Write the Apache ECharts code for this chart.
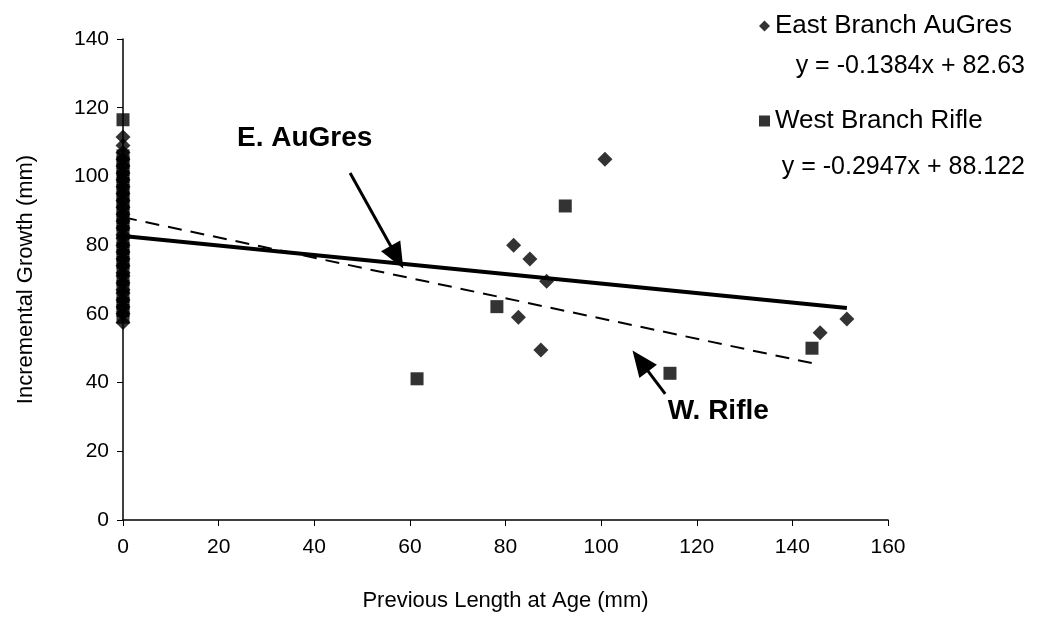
<!DOCTYPE html>
<html>
<head>
<meta charset="utf-8">
<script src="https://cdn.jsdelivr.net/npm/echarts@6/dist/echarts.min.js"></script>
<style>
html,body{margin:0;padding:0;background:#fff;}
#chart{width:1041px;height:620px;}
</style>
</head>
<body>
<div id="chart"></div>
<script>
// ---- data ----
const eastX = [0,0,0,0,0,0,0,0,0,0,0,0,0,0,0,0,0,0,0,0,0,0,0,0,0,0,0,0,0,
  100.8, 81.7, 85.1, 88.6, 82.7, 87.4, 145.8, 151.4];
const eastY = [57.5,60,62,64,66,67,69,71,72,74,76,78,80,82,83,85,87,89,91,93,95,97,99,101,103,105,107,109,111.5,
  105, 80, 76, 69.5, 59, 49.5, 54.5, 58.5];
const westX = [0,0,0,0,0,0,0,0,0,0,0,0,0,0,0,0,0,0,0,0,0,0,0,0,
  92.5, 78.2, 144.1, 114.4, 61.5];
const westY = [59,61,63,65,68,70,73,75,77,79,81,84,86,88,90,92,94,96,98,100,102,104,106,116.5,
  91.4, 62.1, 50.0, 42.7, 41.1];
// trendline coefficients (as printed on the chart)
const eastTrend = {slope: -0.1384, intercept: 82.63, label: 'y = -0.1384x + 82.63'};
const westTrend = {slope: -0.2947, intercept: 88.122, label: 'y = -0.2947x + 88.122'};
const seriesNames = ['East Branch AuGres', 'West Branch Rifle'];
const xTicks = {min: 0, max: 160, interval: 20};
const yTicks = {min: 0, max: 140, interval: 20};
const annotations = [
  {text: 'E. AuGres', at: [38, 111], from: [47.5, 101], to: [57.3, 76.5]},
  {text: 'W. Rifle', at: [124.5, 31.5], from: [113.4, 36.7], to: [108.2, 46.3]}
];

const zip = (xs, ys) => xs.map((x, i) => [x, ys[i]]);
const trendLine = (t, xs) => {
  const xm = Math.max.apply(null, xs);
  return [[0, t.intercept], [xm, t.intercept + t.slope * xm]];
};

const FONT = 'Liberation Sans, Arial, sans-serif';
const chart = echarts.init(document.getElementById('chart'));
chart.setOption({
  animation: false,
  backgroundColor: '#ffffff',
  textStyle: {fontFamily: FONT, color: '#000'},
  grid: {left: 123, right: 153, top: 39, bottom: 100},
  legend: {
    orient: 'vertical', left: 754, top: 8, itemGap: 69,
    itemWidth: 11, itemHeight: 11, itemStyle: {borderWidth: 0},
    textStyle: {fontFamily: FONT, fontSize: 26, color: '#000'},
    data: [
      {name: seriesNames[0], icon: 'diamond'},
      {name: seriesNames[1], icon: 'rect'}
    ]
  },
  graphic: [
    {type: 'text', right: 16, top: 54, style: {text: eastTrend.label, font: '25px ' + FONT, fill: '#000'}},
    {type: 'text', right: 16, top: 155, style: {text: westTrend.label, font: '25px ' + FONT, fill: '#000'}}
  ],
  xAxis: {
    type: 'value', min: xTicks.min, max: xTicks.max, interval: xTicks.interval,
    name: 'Previous Length at Age (mm)', nameLocation: 'middle', nameGap: 70,
    nameTextStyle: {fontSize: 22, color: '#000', fontFamily: FONT},
    axisLine: {show: true, onZero: false, lineStyle: {color: '#000', width: 1.5}},
    axisTick: {show: true, inside: false, length: 6, lineStyle: {color: '#000'}},
    axisLabel: {fontSize: 21, color: '#000', margin: 17, fontFamily: FONT},
    splitLine: {show: false}
  },
  yAxis: {
    type: 'value', min: yTicks.min, max: yTicks.max, interval: yTicks.interval,
    name: 'Incremental Growth (mm)', nameLocation: 'middle', nameGap: 86, nameRotate: 90,
    nameTextStyle: {fontSize: 22, color: '#000', fontFamily: FONT},
    axisLine: {show: true, onZero: false, lineStyle: {color: '#000', width: 1.5}},
    axisTick: {show: true, inside: false, length: 6, lineStyle: {color: '#000'}},
    axisLabel: {fontSize: 21, color: '#000', margin: 14, fontFamily: FONT},
    splitLine: {show: false}
  },
  series: [
    {
      name: seriesNames[0], type: 'scatter', symbol: 'diamond', symbolSize: [15, 15],
      itemStyle: {color: '#000'}, z: 2,
      data: zip(eastX, eastY)
    },
    {
      name: seriesNames[1], type: 'scatter', symbol: 'rect', symbolSize: [13, 13],
      itemStyle: {color: '#000', borderRadius: 2}, z: 2,
      data: zip(westX, westY)
    },
    {
      name: 'East trend', type: 'line', showSymbol: false, symbol: 'none', z: 3,
      lineStyle: {color: '#000', width: 4, type: 'solid'},
      data: trendLine(eastTrend, eastX),
      markLine: {
        silent: true, symbol: ['none', 'triangle'], symbolSize: [22, 26],
        label: {show: false},
        lineStyle: {color: '#000', width: 3, type: 'solid'},
        data: annotations.map(a => [{coord: a.from}, {coord: a.to}])
      },
      markPoint: {
        silent: true, symbol: 'circle', symbolSize: 1,
        itemStyle: {color: 'rgba(0,0,0,0)'},
        label: {show: true, position: 'inside', color: '#000', fontSize: 28, fontWeight: 'bold', fontFamily: FONT,
          formatter: p => p.name},
        data: annotations.map(a => ({name: a.text, coord: a.at}))
      }
    },
    {
      name: 'West trend', type: 'line', showSymbol: false, symbol: 'none', z: 3,
      lineStyle: {color: '#000', width: 2, type: [14, 9]},
      data: trendLine(westTrend, westX)
    }
  ]
});
</script>
</body>
</html>
